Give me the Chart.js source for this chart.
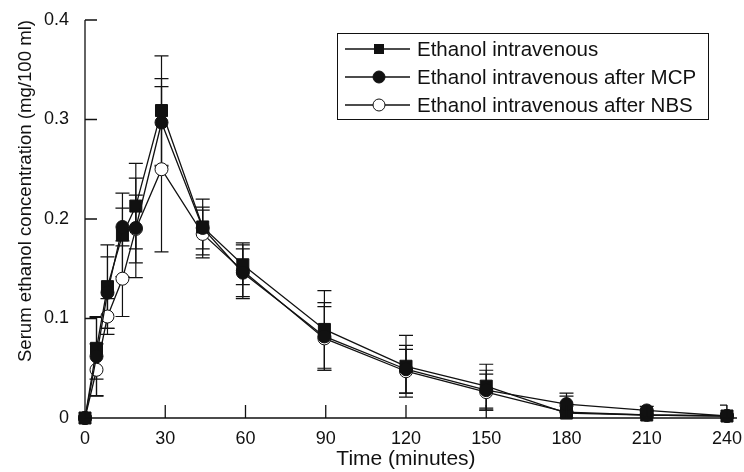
<!DOCTYPE html>
<html>
<head>
<meta charset="utf-8">
<script src="https://cdn.jsdelivr.net/npm/chart.js@4.4.1/dist/chart.umd.min.js"></script>
<style>
  html, body { margin: 0; padding: 0; background: #fff; }
  #wrap { width: 744px; height: 472px; }
</style>
</head>
<body>
<div id="wrap"><canvas id="grafico" width="744" height="472"></canvas></div>
<script>
// tempos (minutos)
const tempos = [0, 4.3, 8.4, 14, 19, 28.6, 44, 59, 89.5, 120, 150, 180, 210, 240];

// Etanol intravenoso (quadrado preto)
const ivMedia = [0, 0.070, 0.132, 0.184, 0.213, 0.309, 0.192, 0.154, 0.089, 0.052, 0.032, 0.005, 0.003, 0.002];
const ivDp    = [0, 0.031, 0.042, 0.042, 0.043, 0.055, 0.028, 0.020, 0.039, 0.031, 0.022, 0.020, 0.004, 0.003];

// apos MCP (circulo preto)
const mcpMedia = [0, 0.062, 0.126, 0.192, 0.191, 0.297, 0.191, 0.146, 0.082, 0.049, 0.028, 0.014, 0.0076, 0.002];
const mcpDp    = [0, 0.040, 0.036, 0.019, 0.050, 0.044, 0.021, 0.024, 0.034, 0.024, 0.020, 0.008, 0.004, 0.011];

// apos NBS (circulo aberto)
const nbsMedia = [0, 0.0485, 0.102, 0.140, 0.190, 0.250, 0.185, 0.148, 0.080, 0.047, 0.026, 0.006, 0.003, 0.002];
const nbsDp    = [0, 0.026, 0.018, 0.038, 0.034, 0.083, 0.024, 0.028, 0.032, 0.022, 0.018, 0.006, 0.002, 0.002];

const legendas = ['Ethanol intravenous', 'Ethanol intravenous after MCP', 'Ethanol intravenous after NBS'];
const xTicks = [0, 30, 60, 90, 120, 150, 180, 210, 240];
const yTicks = [0, 0.1, 0.2, 0.3, 0.4];

const fonte = '"Liberation Sans", Arial, sans-serif';
const preto = '#111';

function pontos(medias) {
    return medias.map((v, i) => ({ x: tempos[i], y: v }));
}

const series = [
    { label: legendas[0], data: pontos(ivMedia), dp: ivDp, estilo: 'rect', fill: preto, raio: 8.5, order: 1 },
    { label: legendas[1], data: pontos(mcpMedia), dp: mcpDp, estilo: 'circle', fill: preto, raio: 6.5, order: 0 },
    { label: legendas[2], data: pontos(nbsMedia), dp: nbsDp, estilo: 'circle', fill: '#fff', raio: 6.5, order: 2 }
];

// barras de erro (desenhadas antes dos pontos)
const barrasErro = {
    id: 'barrasErro',
    beforeDatasetsDraw(chart) {
        const { ctx, chartArea, scales: { x, y } } = chart;
        ctx.save();
        ctx.beginPath();
        ctx.rect(chartArea.left, chartArea.top, chartArea.right - chartArea.left, chartArea.bottom - chartArea.top);
        ctx.clip();
        ctx.strokeStyle = preto;
        ctx.lineWidth = 1.2;
        chart.data.datasets.forEach(ds => {
            ds.data.forEach((p, i) => {
                const e = ds.dp[i];
                if (!e) return;
                const px = x.getPixelForValue(p.x);
                const yTop = y.getPixelForValue(p.y + e);
                const yBot = y.getPixelForValue(p.y - e);
                ctx.beginPath();
                ctx.moveTo(px, yTop); ctx.lineTo(px, yBot);
                ctx.moveTo(px - 7, yTop); ctx.lineTo(px + 7, yTop);
                ctx.moveTo(px - 7, yBot); ctx.lineTo(px + 7, yBot);
                ctx.stroke();
            });
        });
        ctx.restore();
    }
};

// eixos com tracos para dentro
const eixos = {
    id: 'eixos',
    afterDraw(chart) {
        const { ctx, chartArea, scales: { x, y } } = chart;
        ctx.save();
        ctx.strokeStyle = preto;
        ctx.lineWidth = 1.3;
        ctx.beginPath();
        ctx.moveTo(chartArea.left, chartArea.top);
        ctx.lineTo(chartArea.left, chartArea.bottom);
        ctx.lineTo(chartArea.right + 10, chartArea.bottom);
        yTicks.forEach(v => {
            const py = y.getPixelForValue(v);
            ctx.moveTo(chartArea.left, py); ctx.lineTo(chartArea.left + 12, py);
        });
        xTicks.forEach(v => {
            const px = x.getPixelForValue(v);
            ctx.moveTo(px, chartArea.bottom); ctx.lineTo(px, chartArea.bottom - 13);
        });
        ctx.stroke();
        ctx.restore();
    }
};

// legenda com caixa dentro da area do grafico
const legendaCaixa = {
    id: 'legendaCaixa',
    afterDraw(chart) {
        const ctx = chart.ctx;
        ctx.save();
        ctx.strokeStyle = preto;
        ctx.lineWidth = 1;
        ctx.strokeRect(337.5, 33.5, 371, 86);
        const linhas = [49, 77, 105];
        ctx.font = '20.5px ' + fonte;
        ctx.textBaseline = 'middle';
        ctx.fillStyle = preto;
        chart.data.datasets.forEach((ds, i) => {
            const yy = linhas[i];
            ctx.lineWidth = 1.3;
            ctx.beginPath();
            ctx.moveTo(345, yy); ctx.lineTo(410, yy);
            ctx.stroke();
            ctx.fillStyle = ds.pointBackgroundColor;
            ctx.lineWidth = 1;
            if (ds.pointStyle === 'rect') {
                ctx.fillRect(374, yy - 5, 10, 10);
            } else {
                ctx.beginPath();
                ctx.arc(379, yy, 6, 0, Math.PI * 2);
                ctx.fill();
                ctx.stroke();
            }
            ctx.fillStyle = preto;
            ctx.fillText(ds.label, 417, yy + 1);
        });
        ctx.restore();
    }
};

const ctx = document.getElementById('grafico').getContext('2d');
new Chart(ctx, {
    type: 'line',
    data: {
        datasets: series.map(s => ({
            label: s.label,
            data: s.data,
            dp: s.dp,
            order: s.order,
            borderColor: preto,
            borderWidth: 1.3,
            tension: 0,
            clip: false,
            pointStyle: s.estilo,
            pointRadius: s.raio,
            pointBackgroundColor: s.fill,
            pointBorderColor: preto,
            pointBorderWidth: 1
        }))
    },
    options: {
        responsive: false,
        animation: false,
        events: [],
        layout: { padding: { top: 20, right: 14, left: 0, bottom: 0 } },
        plugins: { legend: { display: false }, tooltip: { enabled: false } },
        scales: {
            x: {
                type: 'linear',
                min: 0,
                max: 240,
                afterBuildTicks: s => { s.ticks = xTicks.map(v => ({ value: v })); },
                afterFit: s => { s.height = 54; },
                border: { display: false },
                grid: { display: false },
                ticks: { color: preto, font: { family: fonte, size: 18 }, padding: 2, maxRotation: 0 },
                title: { display: true, text: 'Time (minutes)', color: preto, font: { family: fonte, size: 21 }, padding: { top: 0, bottom: 0 } }
            },
            y: {
                min: 0,
                max: 0.4,
                afterBuildTicks: s => { s.ticks = yTicks.map(v => ({ value: v })); },
                afterFit: s => { s.width = 85; },
                border: { display: false },
                grid: { display: false },
                ticks: { color: preto, font: { family: fonte, size: 18 }, padding: 8 },
                title: { display: true, align: 'end', text: 'Serum ethanol concentration (mg/100 ml)', color: preto, font: { family: fonte, size: 18.6 }, padding: { top: 15, bottom: 0 } }
            }
        }
    },
    plugins: [barrasErro, eixos, legendaCaixa]
});
</script>
</body>
</html>
